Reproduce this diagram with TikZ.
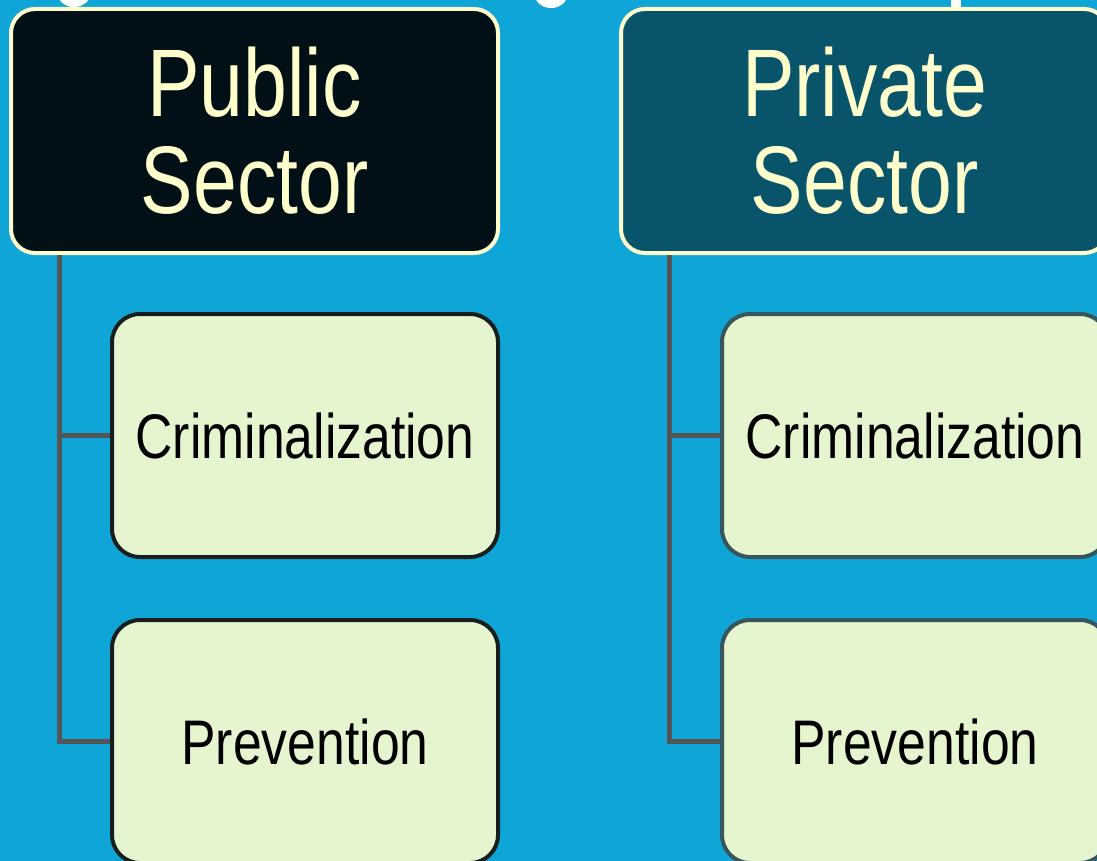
\documentclass[tikz,border=0pt]{standalone}
\usepackage{fontspec}
\setmainfont[FakeStretch=0.82]{Liberation Sans}
\usepackage{xcolor}
\usetikzlibrary{positioning}
\definecolor{skyblue}{RGB}{16,165,215}
\definecolor{cream}{RGB}{255,255,204}
\definecolor{pubdark}{RGB}{1,16,22}
\definecolor{privteal}{RGB}{7,84,107}
\definecolor{leaf}{RGB}{229,245,208}
\definecolor{stemgrey}{RGB}{85,85,85}
\definecolor{publine}{RGB}{22,30,30}
\definecolor{privline}{RGB}{55,85,90}

\tikzset{
  sector/.style={rectangle, rounded corners=24pt, draw=cream, line width=4pt, minimum width=487pt, minimum height=244pt, text=cream, align=center, font=\fontsize{96}{97}\selectfont},
  branch/.style={rectangle, rounded corners=28pt, fill=leaf, line width=4pt, minimum width=386pt, minimum height=243pt, font=\fontsize{63}{63}\selectfont},
  stem/.style={draw=stemgrey, line width=5pt}
}

\begin{document}
\begin{tikzpicture}[x=1pt, y=-1pt]
\clip (0,0) rectangle (1097,861);
\fill[skyblue] (0,0) rectangle (1097,861);
% cut-off bits of the title above
\fill[white] (74,-6) ellipse (16 and 13);
\fill[white] (551,-5) ellipse (16 and 13);
\fill[white] (951,0) rectangle (961,8);

\node[sector, fill=pubdark] (pub) at (254.5,131) {Public\\Sector};
\node[sector, fill=privteal] (priv) at (864.5,131) {Private\\Sector};

\node[branch, draw=publine, below=57pt of pub.south east, anchor=north east] (crimA) {Criminalization};
\node[branch, draw=publine, below=59pt of crimA] (prevA) {Prevention};
\node[branch, draw=privline, below=57pt of priv.south east, anchor=north east] (crimB) {Criminalization};
\node[branch, draw=privline, below=59pt of crimB] (prevB) {Prevention};

\coordinate (stemA) at ([xshift=50pt]pub.south west);
\coordinate (stemB) at ([xshift=50pt]priv.south west);
\draw[stem] (stemA) |- (prevA.west);
\draw[stem] (stemA |- crimA.west) -- (crimA.west);
\draw[stem] (stemB) |- (prevB.west);
\draw[stem] (stemB |- crimB.west) -- (crimB.west);
\end{tikzpicture}
\end{document}
